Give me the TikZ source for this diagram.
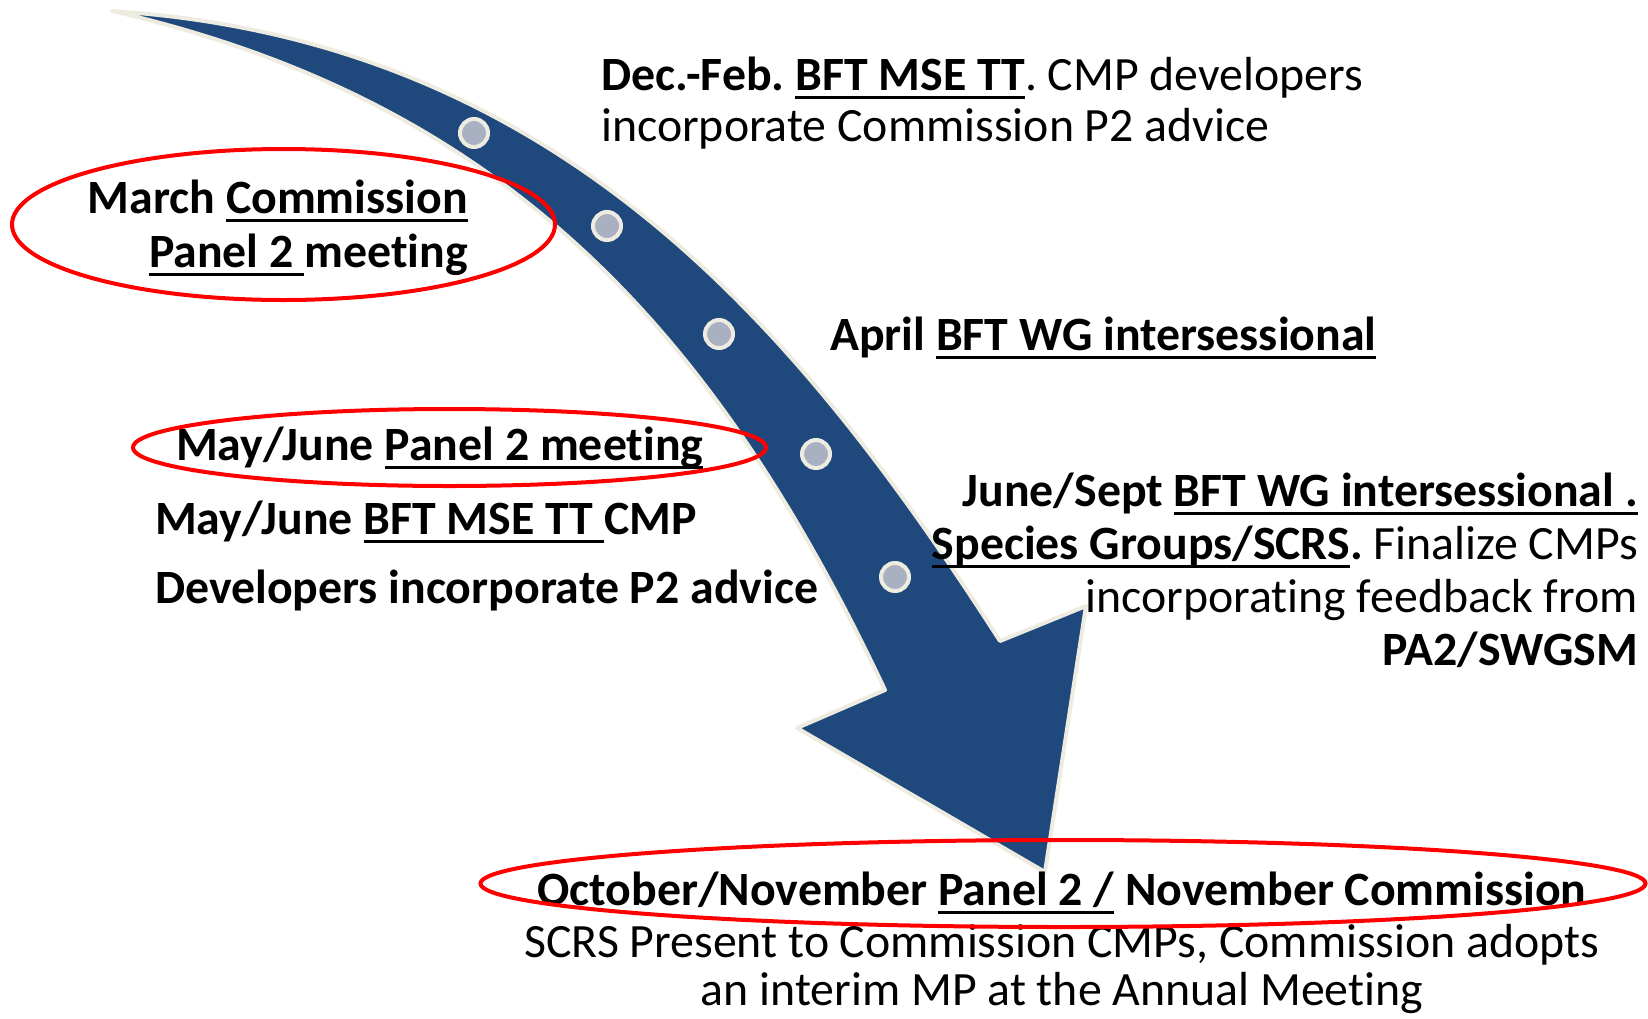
\documentclass[tikz,border=0pt]{standalone}
\usepackage{fontspec}
\setmainfont{Carlito}[Ligatures=NoCommon]
\frenchspacing
\definecolor{arrowblue}{HTML}{1F497D}
\definecolor{rimbeige}{HTML}{EEECE1}
\definecolor{dotgray}{HTML}{A9B0C1}
% underline that sits just under the baseline
\newcommand\ul[1]{\setbox0\hbox{#1}\rlap{\rule[-0.19em]{\wd0}{0.07em}}\box0\relax}
\begin{document}
\begin{tikzpicture}[x=1pt,y=-1pt,
  lbl/.style={inner sep=0pt,font=\fontsize{47.8}{52}\selectfont},
  ring/.style={draw=red,line width=4pt},
  dot/.style={circle,fill=dotgray,draw=rimbeige,line width=4pt,minimum size=28pt,inner sep=0pt}]
\useasboundingbox (0,0) rectangle (1648,1018);

% curved timeline arrow
\draw[fill=arrowblue,draw=rimbeige,line width=4pt,line join=round]
  (112,11) .. controls (560,40) and (800,330) .. (1000,641)
  -- (1086,606) -- (1045,872) -- (797,728) -- (885,690)
  .. controls (713,325) and (500,100) .. (112,11)
  -- cycle;

% milestones on the arrow
\node[dot] (d1) at (474,133) {};
\node[dot] (d2) at (607,226) {};
\node[dot] (d3) at (719,334) {};
\node[dot] (d4) at (816,454) {};
\node[dot] (d5) at (895,577) {};

% texts
\node[lbl,anchor=base west] (t1a) at (601,90) {\textbf{Dec.-Feb. \ul{BFT MSE TT}}. CMP developers};
\node[lbl,anchor=base west] (t1b) at (601,141) {incorporate Commission P2 advice};

\node[lbl,anchor=base east] (t2a) at (468,213) {\textbf{March \ul{Commission}}};
\node[lbl,anchor=base east] (t2b) at (468,267) {\textbf{\ul{Panel 2\ }meeting}};

\node[lbl,anchor=base west] (t3) at (830,350) {\textbf{April \ul{BFT WG intersessional}}};

\node[lbl,anchor=base west] (t4) at (176,460) {\textbf{May/June \ul{Panel 2 meeting}}};
\node[lbl,anchor=base west] (t5) at (155,534) {\textbf{May/June \ul{BFT MSE TT\ }CMP}};
\node[lbl,anchor=base west] (t6) at (155,603) {\textbf{Developers incorporate P2 advice}};

\node[lbl,anchor=base east] (t7a) at (1638,506) {\textbf{June/Sept \ul{BFT WG intersessional .}}};
\node[lbl,anchor=base east] (t7b) at (1638,559) {\textbf{\ul{Species Groups/SCRS}.} Finalize CMPs};
\node[lbl,anchor=base east] (t7c) at (1638,612) {incorporating feedback from};
\node[lbl,anchor=base east] (t7d) at (1638,665) {\textbf{PA2/SWGSM}};

\node[lbl,anchor=base] (t8a) at (1062,905) {\textbf{October/November \ul{Panel 2 /} November Commission}};
\node[lbl,anchor=base] (t8b) at (1062,957) {SCRS Present to Commission CMPs, Commission adopts};
\node[lbl,anchor=base] (t8c) at (1062,1005) {an interim MP at the Annual Meeting};

% highlighted meetings
\draw[ring] (283.5,224.5) ellipse [x radius=271.5, y radius=75.5];
\draw[ring] (449.5,447.5) ellipse [x radius=316.5, y radius=38.5];
\draw[ring] (1063,883.5) ellipse [x radius=582.5, y radius=43.5];
\end{tikzpicture}
\end{document}
